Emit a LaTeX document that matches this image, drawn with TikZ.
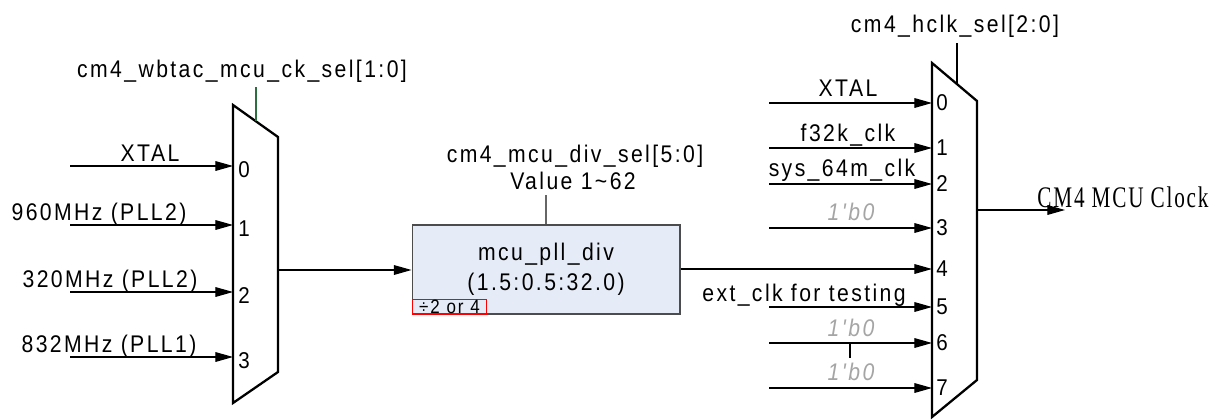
\documentclass[tikz,border=0pt]{standalone}
\usepackage{fontspec}
\setmainfont{Liberation Sans}
\newfontfamily\sigfont[FakeStretch=0.88,LetterSpace=10]{Liberation Sans}
\newfontfamily\pinfont[FakeStretch=0.9]{Liberation Sans}
\newfontfamily\outfont[FakeStretch=0.71,LetterSpace=6]{Liberation Serif}
\usetikzlibrary{arrows.meta}

\definecolor{boxfill}{RGB}{230,236,247}
\definecolor{zerogray}{RGB}{165,165,165}
\definecolor{selgreen}{RGB}{45,110,65}

\tikzset{
  sig/.style={font=\sigfont\fontsize{13.7}{16}\selectfont, inner sep=0pt, anchor=base},
  tie/.style={font=\sigfont\itshape\fontsize{13.7}{16}\selectfont, text=zerogray, inner sep=0pt, anchor=base},
  pin/.style={font=\pinfont\fontsize{13}{15}\selectfont, inner sep=0pt, anchor=west},
  wire/.style={line width=0.6pt},
  arr/.style={wire, -{Triangle[length=10pt,width=5.5pt]}},
  muxline/.style={line width=1.3pt, line join=miter},
  divbox/.style={draw=black!70, fill=boxfill, line width=0.6pt, minimum width=5.36cm,
    minimum height=1.78cm, align=center, font=\sigfont\fontsize{13.7}{17}\selectfont}
}

\begin{document}
\begin{tikzpicture}[x=0.02cm, y=-0.02cm]
\useasboundingbox (0,0) rectangle (1226,419);

% first mux: clock source
\draw[muxline] (233,105) -- (278,137) -- (278,372) -- (233,403) -- cycle;
\coordinate (lseltop) at (256,87);
\coordinate (lselbot) at (256,121);
\coordinate (lout) at (278,270);
\draw[wire, selgreen] (lseltop) -- (lselbot);
\node[sig] (lsel) at (242,77) {cm4\_wbtac\_mcu\_ck\_sel[1:0]};

\foreach \i/\y in {0/166,1/225,2/292,3/357} {
  \coordinate (lsrc\i) at (70,\y);
  \coordinate (lin\i) at (233,\y);
  \draw[arr] (lsrc\i) -- (lin\i);
  \node[pin] (lpin\i) at (238,\y+4) {\i};
}
\node[sig] (lxtal) at (150,161) {XTAL};
\node[sig] (l960) at (99,220) {960MHz (PLL2)};
\node[sig] (l320) at (110,287) {320MHz (PLL2)};
\node[sig] (l832) at (109,352) {832MHz (PLL1)};

% divider
\node[divbox] (div) at (546,269.5) {mcu\_pll\_div\\(1.5:0.5:32.0)};
\node[draw=red, line width=0.5pt, anchor=south west, minimum width=1.5cm, minimum height=0.3cm,
  inner sep=0pt, font=\sigfont\fontsize{11}{12}\selectfont] (half) at (div.south west) {÷2 or 4};
\coordinate (dseltop) at (546,195);
\draw[wire, black!60] (dseltop) -- (div.north -| dseltop);
\node[sig] (dsel) at (575,162) {cm4\_mcu\_div\_sel[5:0]};
\node[sig] (dval) at (573,189) {Value 1\textasciitilde 62};
\draw[arr] (lout) -- (lout -| div.west);

% second mux: cm4 clock
\draw[muxline] (932,63) -- (977,101) -- (977,380) -- (932,417) -- cycle;
\coordinate (rseltop) at (957,43);
\coordinate (rselbot) at (957,84);
\draw[wire] (rseltop) -- (rselbot);
\node[sig] (rsel) at (955,32) {cm4\_hclk\_sel[2:0]};

\foreach \i/\y in {0/103,1/148,2/184,3/228,5/307,6/343,7/388} {
  \coordinate (rsrc\i) at (769,\y);
  \coordinate (rin\i) at (932,\y);
  \draw[arr] (rsrc\i) -- (rin\i);
}
\coordinate (rin4) at (932,269);
\draw[arr] (div.east |- rin4) -- (rin4);
\foreach \i/\y in {0/103,1/148,2/184,3/228,4/269,5/307,6/343,7/388}
  \node[pin] (rpin\i) at (936,\y) {\i};

\node[sig] (rxtal) at (848,96) {XTAL};
\node[sig] (rf32k) at (848,141) {f32k\_clk};
\node[sig] (rsys) at (842,176) {sys\_64m\_clk};
\node[tie] (rtie3) at (851,220) {1'b0};
\node[sig] (rext) at (804,301) {ext\_clk for testing};
\node[tie] (rtie6) at (851,336) {1'b0};
\node[tie] (rtie7) at (851,380) {1'b0};
\coordinate (ticktop) at (850,343);
\coordinate (tickbot) at (850,358);
\draw[wire] (ticktop) -- (tickbot);

\coordinate (rout) at (977,210);
\coordinate (clk) at (1065,210);
\draw[arr] (rout) -- (clk);
\node[font=\outfont\fontsize{17}{20}\selectfont, inner sep=0pt, anchor=base] (clkname) at (1123,207) {CM4 MCU Clock};
\end{tikzpicture}
\end{document}
